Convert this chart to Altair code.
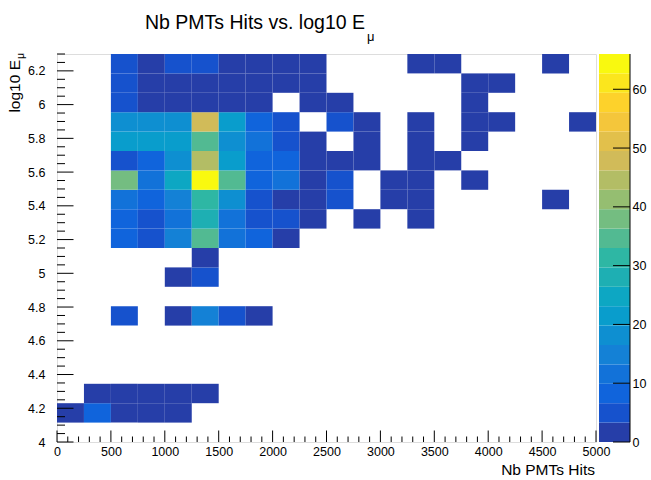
import altair as alt
import pandas as pd
import numpy as np

# ---------------- data ----------------
hits_edges = [0, 250, 500, 750, 1000, 1250, 1500, 1750, 2000, 2250, 2500,
              2750, 3000, 3250, 3500, 3750, 4000, 4250, 4500, 4750, 5000]
loge_edges = [4.0, 4.115, 4.23, 4.345, 4.46, 4.575, 4.69, 4.805, 4.92, 5.035, 5.15,
              5.265, 5.38, 5.495, 5.61, 5.725, 5.84, 5.955, 6.07, 6.185, 6.3]

# counts per log10(E) bin row (bottom to top), one entry per Nb-PMT-hits bin
row00 = [0] * 20
row01 = [1, 8, 1, 1, 1, 0, 0, 0, 0, 0, 0, 0, 0, 0, 0, 0, 0, 0, 0, 0]
row02 = [0, 1, 1, 1, 1, 1, 0, 0, 0, 0, 0, 0, 0, 0, 0, 0, 0, 0, 0, 0]
row03 = [0] * 20
row04 = [0] * 20
row05 = [0] * 20
row06 = [0, 0, 5, 0, 1, 15, 5, 1, 0, 0, 0, 0, 0, 0, 0, 0, 0, 0, 0, 0]
row07 = [0] * 20
row08 = [0, 0, 0, 0, 1, 5, 0, 0, 0, 0, 0, 0, 0, 0, 0, 0, 0, 0, 0, 0]
row09 = [0, 0, 0, 0, 0, 1, 0, 0, 0, 0, 0, 0, 0, 0, 0, 0, 0, 0, 0, 0]
row10 = [0, 0, 8, 5, 15, 35, 11, 8, 1, 0, 0, 0, 0, 0, 0, 0, 0, 0, 0, 0]
row11 = [0, 0, 8, 5, 11, 28, 11, 5, 5, 1, 0, 1, 0, 1, 0, 0, 0, 0, 0, 0]
row12 = [0, 0, 11, 8, 15, 31, 18, 5, 1, 1, 5, 0, 1, 1, 0, 0, 0, 0, 1, 0]
row13 = [0, 0, 38, 11, 25, 65, 35, 8, 11, 1, 5, 0, 1, 1, 0, 1, 0, 0, 0, 0]
row14 = [0, 0, 5, 8, 17, 45, 21, 8, 8, 1, 1, 1, 0, 1, 1, 0, 0, 0, 0, 0]
row15 = [0, 0, 21, 21, 21, 35, 18, 11, 5, 1, 0, 1, 0, 1, 0, 1, 0, 0, 0, 0]
row16 = [0, 0, 18, 18, 18, 48, 21, 8, 5, 0, 5, 1, 0, 1, 0, 1, 1, 0, 0, 1]
row17 = [0, 0, 5, 1, 1, 1, 1, 1, 0, 1, 1, 0, 0, 0, 0, 1, 0, 0, 0, 0]
row18 = [0, 0, 5, 1, 1, 1, 1, 1, 1, 1, 0, 0, 0, 0, 0, 1, 1, 0, 0, 0]
row19 = [0, 0, 5, 1, 5, 5, 1, 1, 1, 1, 0, 0, 0, 1, 1, 0, 0, 0, 1, 0]
rows = [row00, row01, row02, row03, row04, row05, row06, row07, row08, row09,
        row10, row11, row12, row13, row14, row15, row16, row17, row18, row19]

z_max = 66
n_levels = 20
x_tick_labels = [0, 500, 1000, 1500, 2000, 2500, 3000, 3500, 4000, 4500, 5000]
y_tick_labels = [4.0, 4.2, 4.4, 4.6, 4.8, 5.0, 5.2, 5.4, 5.6, 5.8, 6.0, 6.2]
z_tick_labels = [0, 10, 20, 30, 40, 50, 60]

# ---------------- palette (ROOT kBird, 20 contour levels) ----------------
stops = [0.0, 0.125, 0.25, 0.375, 0.5, 0.625, 0.75, 0.875, 1.0]
red = [0.2082, 0.0592, 0.0780, 0.0232, 0.1802, 0.5301, 0.8186, 0.9956, 0.9764]
green = [0.1664, 0.3599, 0.5041, 0.6419, 0.7178, 0.7492, 0.7328, 0.7862, 0.9832]
blue = [0.5293, 0.8684, 0.8385, 0.7914, 0.6425, 0.4662, 0.3499, 0.1968, 0.0539]
table = []
for g in range(1, len(stops)):
    n = int(np.floor(255 * stops[g]) - np.floor(255 * stops[g - 1]))
    for c in range(n):
        f = c / n
        table.append((red[g - 1] + (red[g] - red[g - 1]) * f,
                      green[g - 1] + (green[g] - green[g - 1]) * f,
                      blue[g - 1] + (blue[g] - blue[g - 1]) * f))
palette = []
for k in range(n_levels):
    idx = min(int((k + 0.99) * len(table) / n_levels), len(table) - 1)
    r, g_, b = table[idx]
    palette.append("#%02x%02x%02x" % (round(r * 255), round(g_ * 255), round(b * 255)))

# ---------------- tables ----------------
recs = []
for i, row in enumerate(rows):
    for j, c in enumerate(row):
        if c > 0:
            recs.append({"x0": hits_edges[j], "x1": hits_edges[j + 1],
                         "y0": loge_edges[i], "y1": loge_edges[i + 1], "count": c})
cells = pd.DataFrame(recs)

step = z_max / n_levels
bands = pd.DataFrame({"lo": [k * step for k in range(n_levels)],
                      "hi": [(k + 1) * step for k in range(n_levels)],
                      "mid": [(k + 0.5) * step for k in range(n_levels)]})

x_major = pd.DataFrame({"v": x_tick_labels})
x_minor = pd.DataFrame({"v": [v for v in range(0, 5001, 100) if v % 500 != 0]})
y_major = pd.DataFrame({"v": y_tick_labels})
y_minor = pd.DataFrame({"v": [round(4 + 0.05 * k, 2) for k in range(0, 47) if k % 4 != 0]})
z_major = pd.DataFrame({"v": z_tick_labels})

W, H = 539, 388
FONT = "Liberation Sans"

xs = alt.Scale(domain=[0, 5000], nice=False, zero=False)
ys = alt.Scale(domain=[4, 6.3], nice=False, zero=False)
zs = alt.Scale(domain=[0, z_max], nice=False, zero=False)
cs = alt.Scale(type="quantize", domain=[0, z_max], range=palette)

heat = alt.Chart(cells).mark_rect(stroke=None).encode(
    x=alt.X("x0:Q", scale=xs, axis=alt.Axis(orient="bottom", values=x_tick_labels, format="d",
                                             ticks=False, domain=False, grid=False, title=None,
                                             labelFlush=False, labelFont=FONT,
                                             labelFontSize=12.5, labelColor="black",
                                             labelPadding=3, labelOverlap=False)),
    x2="x1:Q",
    y=alt.Y("y0:Q", scale=ys, axis=alt.Axis(orient="left", values=y_tick_labels, format="~g",
                                             ticks=False, domain=False, grid=False, title=None,
                                             labelFlush=False, labelFont=FONT,
                                             labelFontSize=12.5, labelColor="black",
                                             labelPadding=12, labelOverlap=False)),
    y2="y1:Q",
    color=alt.Color("count:Q", scale=cs, legend=None),
)

xt1 = alt.Chart(x_major).mark_rule(color="black", strokeWidth=1).encode(
    x=alt.X("v:Q", scale=xs, axis=None), y=alt.value(H), y2=alt.value(H - 11.5))
xt2 = alt.Chart(x_minor).mark_rule(color="black", strokeWidth=1).encode(
    x=alt.X("v:Q", scale=xs, axis=None), y=alt.value(H), y2=alt.value(H - 5.5))
yt1 = alt.Chart(y_major).mark_rule(color="black", strokeWidth=1).encode(
    y=alt.Y("v:Q", scale=ys, axis=None), x=alt.value(0), x2=alt.value(16.5))
yt2 = alt.Chart(y_minor).mark_rule(color="black", strokeWidth=1).encode(
    y=alt.Y("v:Q", scale=ys, axis=None), x=alt.value(0), x2=alt.value(8))

cbar = alt.Chart(bands).mark_rect(stroke=None).encode(
    x=alt.value(542), x2=alt.value(573),
    y=alt.Y("lo:Q", scale=zs, axis=alt.Axis(orient="right", offset=34, values=z_tick_labels,
                                             ticks=False, domain=False, grid=False, title=None,
                                             labelFlush=False, labelFont=FONT,
                                             labelFontSize=12.5, labelColor="black",
                                             labelPadding=2, labelOverlap=False)),
    y2="hi:Q",
    color=alt.Color("mid:Q", scale=cs, legend=None),
)
zt = alt.Chart(z_major).mark_rule(color="black", strokeWidth=1).encode(
    y=alt.Y("v:Q", scale=zs, axis=None), x=alt.value(556), x2=alt.value(573))
zline = alt.Chart(pd.DataFrame({"a": [0]})).mark_rule(color="black", strokeWidth=1).encode(
    x=alt.value(573), y=alt.value(0), y2=alt.value(H))

one = pd.DataFrame({"a": [0]})
title_main = alt.Chart(one).mark_text(text="Nb PMTs Hits vs. log10 E", font=FONT, fontSize=19.5,
                                      align="right", baseline="alphabetic", color="black").encode(
    x=alt.value(308), y=alt.value(-25.5))
title_sub = alt.Chart(one).mark_text(text="μ", font=FONT, fontSize=13, align="left",
                                     baseline="alphabetic", color="black").encode(
    x=alt.value(310), y=alt.value(-13))
xtitle = alt.Chart(one).mark_text(text="Nb PMTs Hits", font=FONT, fontSize=15.5, align="right",
                                  baseline="alphabetic", color="black").encode(
    x=alt.value(538), y=alt.value(H + 33))
ytitle = alt.Chart(one).mark_text(text="log10 E", font=FONT, fontSize=15.5, angle=270,
                                  align="right", baseline="alphabetic", color="black").encode(
    x=alt.value(-37), y=alt.value(6))
ytitle_sub = alt.Chart(one).mark_text(text="μ", font=FONT, fontSize=10.5, angle=270,
                                      align="left", baseline="alphabetic", color="black").encode(
    x=alt.value(-33), y=alt.value(5))

chart = alt.layer(
    heat, xt1, xt2, yt1, yt2, cbar, zt, zline, title_main, title_sub, xtitle, ytitle, ytitle_sub
).resolve_scale(y="independent").resolve_axis(x="independent", y="independent").properties(
    width=W, height=H,
    autosize=alt.AutoSizeParams(type="none"),
    padding={"left": 57, "top": 54, "right": 55, "bottom": 38},
).configure_view(stroke="#222", strokeWidth=1).configure(background="white")

chart.save("out.html", embed_options={"renderer": "svg", "actions": False})
